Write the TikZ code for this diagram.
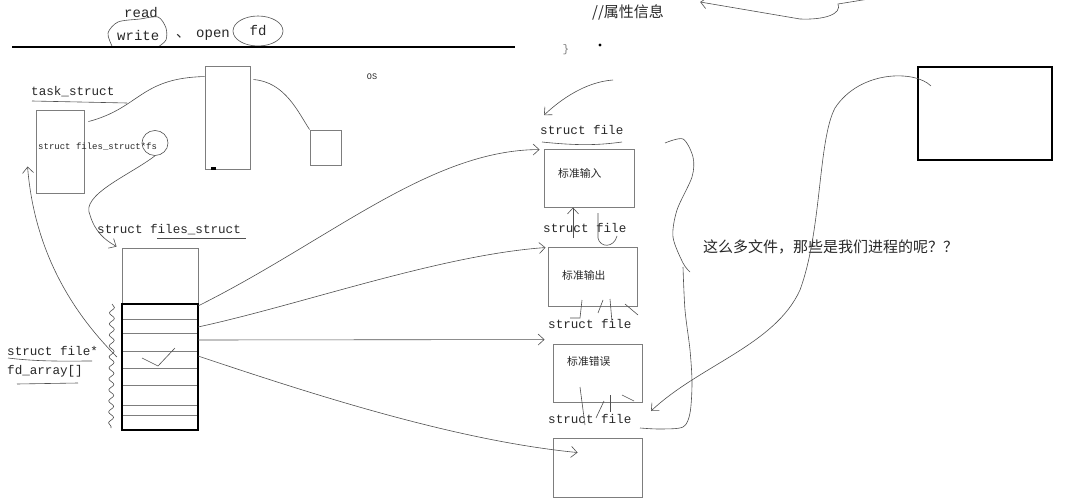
\documentclass[tikz,border=0pt]{standalone}
\usepackage{fontspec}
\setmonofont{Liberation Mono}
\newfontfamily\cjk{Noto Sans CJK SC}
\usetikzlibrary{positioning,arrows.meta,shapes.geometric,decorations.pathmorphing,calc}
\definecolor{inkgray}{RGB}{80, 80, 80}
\definecolor{boxgray}{RGB}{125, 125, 125}
\definecolor{textgray}{RGB}{40, 40, 40}

\begin{document}
\begin{tikzpicture}[x=1pt, y=-1pt,
		% Text styles
		code/.style={font=\ttfamily\fontsize{12.6}{14}\selectfont, text=textgray, inner sep=0pt, anchor=west},
		smallcode/.style={font=\ttfamily\fontsize{9}{10}\selectfont, text=textgray, inner sep=0pt, anchor=west},
		topcode/.style={font=\ttfamily\fontsize{14}{16}\selectfont, text=textgray, inner sep=0pt, anchor=west},
		hanzi/.style={font=\cjk\fontsize{#1}{#1}\selectfont, text=textgray, inner sep=0pt, anchor=west},
		% Box styles
		thinbox/.style={draw=boxgray, line width=0.9pt, inner sep=0pt},
		thickbox/.style={draw=black, line width=2.2pt, inner sep=0pt},
		rowline/.style={draw=boxgray, line width=0.8pt},
		% Hand drawn strokes
		hand/.style={draw=inkgray, line width=0.6pt},
		handarrow/.style={hand, -{Straight Barb[length=6pt, width=11pt]}},
		loopmark/.style={hand, ellipse, inner sep=0pt},
	]

	\path[fill=white, use as bounding box] (0,0) rectangle (1066,503);

	% Top line: system calls
	\node[topcode] (read) at (124,13) {read};
	\node[topcode] (write) at (117,35) {write};
	\node[hanzi=14] (dun) at (176,36) {、};
	\node[topcode] (open) at (196,35) {open};
	\node[topcode, loopmark, anchor=center, minimum width=50pt, minimum height=30pt] (fd) at (258,31) {fd};
	\draw[hand] plot[smooth] coordinates {(112,46) (108,33) (118,22) (140,19) (158,17) (166,28) (166,40) (158,47)};
	\draw[black, line width=2.4pt] (12,47) -- (515,47);

	% Attribute comment at the top right
	\node[hanzi=15] (attr) at (592,12) {//属性信息};
	\coordinate (attrtail) at (875,-2);
	\draw[handarrow] (attrtail) -- (838,4) .. controls (842,14) and (825,20) .. (800,19) -- ([shift={(36,-10)}]attr.east);
	\node[font=\ttfamily\fontsize{11}{12}\selectfont, text=boxgray] (brace) at (566,50) {\}};
	\node[circle, fill=black, inner sep=1.2pt] (dot) at (600,45) {};

	% Process and OS memory
	\node[font=\ttfamily\fontsize{8.5}{9}\selectfont, text=textgray] (os) at (372,77) {OS};
	\node[code] (tasklbl) at (31,92) {task\_struct};
	\draw[hand] (32,101) -- (127,103);
	\node[thinbox, minimum width=48pt, minimum height=83pt] (task) at (60,151.5) {};
	\node[smallcode] (fsptr) at (38,147) {struct files\_struct*fs};
	\node[loopmark, minimum width=26pt, minimum height=25pt] (fsmark) at (155,143) {};
	\node[thinbox, minimum width=45pt, minimum height=103pt] (mem) at (227.5,117.5) {};
	\node[fill=black, minimum width=5pt, minimum height=3pt, inner sep=0pt] (memmark) at (213,168) {};
	\node[thinbox, minimum width=31pt, minimum height=35pt] (disk) at (325.5,147.5) {};

	\draw[hand] ([shift={(4,12)}]task.north east) .. controls (140,108) and (140,78) .. ([shift={(0,11)}]mem.north west);
	\draw[hand] ([shift={(3,14)}]mem.north east) .. controls (285,82) and (298,112) .. (disk.north west);

	% files_struct with the fd array
	\node[code] (fslbl) at (97,230) {struct files\_struct};
	\draw[hand] (157,238) -- (246,238);
	\node[thinbox, minimum width=76pt, minimum height=56pt] (fsbox) at (160,276) {};
	\foreach \r in {319,333,351,368,385,405,415}
		\draw[rowline] (122,\r) -- (198,\r);
	\node[thickbox, minimum width=76pt, minimum height=126pt] (fdarr) at (160,367) {};
	\draw[hand] (142,358) -- (158,366) -- (175,348);
	\draw[hand, decorate, decoration={snake, amplitude=2.5pt, segment length=11pt}] (112,304) -- (111,428);
	\draw[handarrow] (fsmark.south) .. controls (130,175) and (80,195) .. (90,215) .. controls (95,232) and (105,240) .. ([shift={(-5,-1)}]fsbox.north west);

	\node[code] (fdlbl) at (7,351) {struct file*};
	\node[code] (fdarrlbl) at (7,371) {fd\_array[]};
	\draw[hand] (8,358) .. controls (40,362) and (70,361) .. (92,361);
	\draw[hand] (17,384) -- (78,383);
	\draw[handarrow] ([shift={(-4,-10)}]fdarr.west) .. controls (80,320) and (35,260) .. ([shift={(-8,57)}]task.north west);

	% Opened files
	\node[code] (sf1) at (540,130) {struct file};
	\node[thinbox, minimum width=90pt, minimum height=58pt] (stdin) at (589,178) {};
	\node[hanzi=10.8] (stdinlbl) at (558,173) {标准输入};
	\node[code] (sf2) at (543,228) {struct file};
	\node[thinbox, minimum width=89pt, minimum height=59pt] (stdout) at (592.5,276.5) {};
	\node[hanzi=10.8] (stdoutlbl) at (562,275) {标准输出};
	\node[code] (sf3) at (548,324) {struct file};
	\node[thinbox, minimum width=89pt, minimum height=58pt] (stderr) at (597.5,373) {};
	\node[hanzi=10.8] (stderrlbl) at (567,361) {标准错误};
	\node[code] (sf4) at (548,419) {struct file};
	\node[thinbox, minimum width=89pt, minimum height=59pt] (newfile) at (597.5,467.5) {};

	\draw[hand] (542,142) .. controls (580,146) and (600,145) .. (622,142);
	\coordinate (fdtop) at (613,80);
	\draw[handarrow] (fdtop) .. controls (585,82) and (560,100) .. ([shift={(4,-10)}]sf1.north west);

	% fd array slots to files
	\coordinate (fd0) at (198,306);
	\coordinate (fd1) at (198,327);
	\coordinate (fd2) at (198,340);
	\coordinate (fd3) at (198,356);
	\draw[handarrow] (fd0) .. controls (330,240) and (430,150) .. ([shift={(-4,1)}]stdin.north west);
	\draw[handarrow] (fd1) .. controls (300,305) and (440,255) .. ([shift={(-2,1)}]stdout.north west);
	\draw[handarrow] (fd2) -- ([shift={(-8,-4)}]stderr.north west);
	\draw[handarrow] (fd3) .. controls (300,390) and (450,440) .. ([shift={(25,15)}]newfile.north west);

	% Marks between the files
	\draw[handarrow] (573,238) -- ([shift={(-16,0)}]stdin.south);
	\draw[hand] (598,213) -- (598,238) .. controls (600,248) and (614,248) .. (617,236);
	\draw[hand] (582,300) -- (580,318) -- (570,318);
	\draw[hand] (603,300) -- (598,313);
	\draw[hand] (610,299) -- (612,322);
	\draw[hand] (625,304) -- (638,315);
	\draw[hand] (580,387) -- (585,425);
	\draw[hand] (610,395) -- (610,412);
	\draw[hand] (604,401) -- (596,418);
	\draw[hand] (622,395) -- (634,401);

	% Question on the right
	\node[thickbox, minimum width=134pt, minimum height=93pt] (rbox) at (985,113.5) {};
	\node[hanzi=15] (question) at (703,247) {这么多文件，那些是我们进程的呢？？};
	\draw[hand] plot[smooth] coordinates {(665,143) (683,139) (693,157) (692,177) (677,210) (673,237) (683,263) (690,272)};
	\draw[hand] plot[smooth] coordinates {(683,267) (685,310) (690,350) (692,383) (690,413) (683,427) (660,429) (640,428)};
	\coordinate (qmark) at (651,411);
	\draw[handarrow] ([shift={(14,20)}]rbox.north west) .. controls (915,70) and (860,70) .. (835,108) .. controls (818,140) and (822,230) .. (800,290) .. controls (775,345) and (700,365) .. (qmark);

\end{tikzpicture}
\end{document}
